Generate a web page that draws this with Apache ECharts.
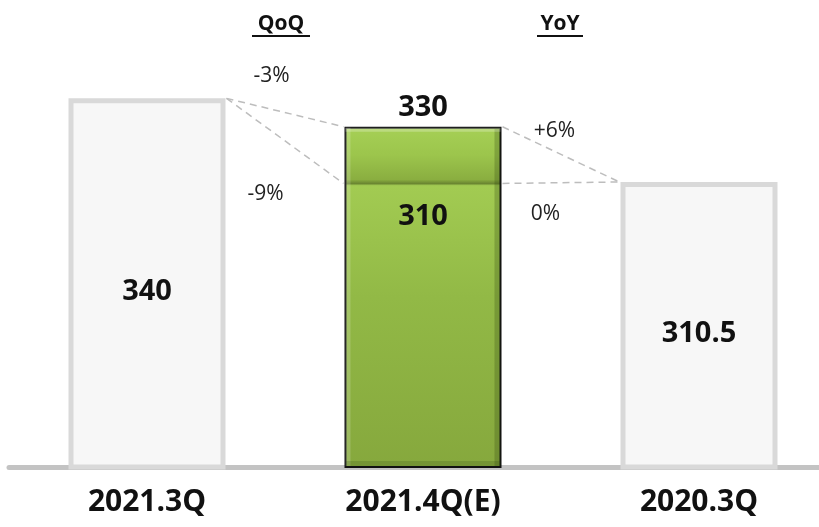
<!DOCTYPE html>
<html>
<head>
<meta charset="utf-8">
<script src="https://cdn.jsdelivr.net/npm/echarts@6/dist/echarts.min.js"></script>
<style>
  html, body { margin: 0; padding: 0; background: #fff; }
  #main { width: 819px; height: 527px; }
</style>
</head>
<body>
<div id="main"></div>
<script>
var categories = ['2021.3Q', '2021.4Q(E)', '2020.3Q'];
var values = [340, 330, 310.5];
var lowEstimate = 310;           // lower bound inside the 2021.4Q(E) bar
var headers = ['QoQ', 'YoY'];
// connectors: [fromIndex, fromValue, toIndex, toValue, label]
var connectors = [
  [0, 340, 1, 330, '-3%'],
  [0, 340, 1, 310, '-9%'],
  [1, 330, 2, 310.5, '+6%'],
  [1, 310, 2, 310.5, '0%']
];
var labelOffsets = [[45, -22], [-78, 11], [52, 4], [43, 31]];

var font = '"Open Sans", "Noto Sans CJK KR", sans-serif';
var BAR_W = 157;
var Y_MIN = 210, Y_MAX = 350;

var chart = echarts.init(document.getElementById('main'));

var split = (values[1] - lowEstimate) / (values[1] - Y_MIN);
var greenFill = new echarts.graphic.LinearGradient(0, 0, 0, 1, [
  { offset: 0, color: '#a6d056' },
  { offset: split * 0.5, color: '#9cc54c' },
  { offset: split - 0.012, color: '#8aae40' },
  { offset: split, color: '#6a8631' },
  { offset: split + 0.006, color: '#a2cb52' },
  { offset: 0.5, color: '#92b946' },
  { offset: 1, color: '#86a83d' }
]);

var option = {
  animation: false,
  grid: { left: 9, width: 828, top: 70, bottom: 60, outerBoundsMode: 'none', containLabel: false },
  xAxis: {
    type: 'category',
    data: categories,
    axisLine: { lineStyle: { color: '#c3c3c3', width: 5 } },
    axisTick: { show: false },
    axisLabel: {
      margin: 20, fontSize: 30, fontWeight: 'bold', color: '#111', fontFamily: font
    }
  },
  yAxis: { type: 'value', min: Y_MIN, max: Y_MAX, show: false, splitLine: { show: false } },
  graphic: headers.map(function (h, i) {
    var cx = i === 0 ? 281 : 560;
    var w = i === 0 ? 58 : 46;
    return {
      type: 'group',
      children: [
        { type: 'text', x: cx, y: 24, style: { text: h, font: 'bold 21px ' + font, fill: '#111', textAlign: 'center', textVerticalAlign: 'middle' } },
        { type: 'rect', shape: { x: cx - w / 2, y: 35, width: w, height: 2 }, style: { fill: '#111' } }
      ]
    };
  }),
  series: [
    {
      type: 'bar',
      barWidth: BAR_W,
      data: values.map(function (v, i) {
        if (i === 1) {
          return {
            value: v,
            itemStyle: { color: greenFill, borderColor: '#111', borderWidth: 2 },
            label: { show: true, position: 'top', distance: 4, fontSize: 29, fontWeight: 'bold', color: '#111', fontFamily: font }
          };
        }
        return {
          value: v,
          itemStyle: { color: '#f7f7f7', borderColor: '#d9d9d9', borderWidth: 5 },
          label: { show: true, position: 'inside', offset: [0, 8], fontSize: 29, fontWeight: 'bold', color: '#111', fontFamily: font }
        };
      }),
      z: 2
    },
    {
      // divider, side bevels and label for the lower estimate inside the green bar
      type: 'custom',
      data: [[1, lowEstimate]],
      z: 3,
      renderItem: function (params, api) {
        var p = api.coord([api.value(0), api.value(1)]);
        var top = api.coord([api.value(0), values[1]])[1];
        var base = api.coord([api.value(0), Y_MIN])[1];
        var half = BAR_W / 2 - 1;
        return {
          type: 'group',
          children: [
            { type: 'rect', shape: { x: p[0] - half, y: top + 1, width: 5, height: base - top - 2 }, style: { fill: 'rgba(255,255,255,0.18)' } },
            { type: 'rect', shape: { x: p[0] + half - 6, y: top + 1, width: 6, height: base - top - 2 }, style: { fill: 'rgba(40,60,10,0.25)' } },
            { type: 'rect', shape: { x: p[0] - half, y: base - 6, width: half * 2, height: 5 }, style: { fill: 'rgba(40,60,10,0.18)' } },
            { type: 'rect', shape: { x: p[0] - half, y: top + 1, width: half * 2, height: 4 }, style: { fill: 'rgba(255,255,255,0.25)' } },
            { type: 'text', x: p[0], y: p[1] + 33, style: { text: String(api.value(1)), font: 'bold 29px ' + font, fill: '#111', textAlign: 'center', textVerticalAlign: 'middle' } }
          ]
        };
      }
    },
    {
      type: 'custom',
      data: connectors,
      z: 1,
      renderItem: function (params, api) {
        var half = BAR_W / 2 + 1;
        var a = api.coord([api.value(0), api.value(1)]);
        var b = api.coord([api.value(2), api.value(3)]);
        var x1 = a[0] + half, x2 = b[0] - half;
        var off = labelOffsets[params.dataIndex];
        var lx = params.dataIndex === 1 ? x2 : x1;
        var ly = params.dataIndex === 1 ? b[1] : a[1];
        return {
          type: 'group',
          children: [
            { type: 'line', shape: { x1: x1, y1: a[1], x2: x2, y2: b[1] }, style: { stroke: '#bdbdbd', lineWidth: 1.5, lineDash: [7, 5] } },
            { type: 'text', x: lx + off[0], y: ly + off[1], style: { text: connectors[params.dataIndex][4], font: '21px ' + font, fill: '#222', textAlign: 'center', textVerticalAlign: 'middle' } }
          ]
        };
      }
    }
  ]
};

chart.setOption(option);
</script>
</body>
</html>
